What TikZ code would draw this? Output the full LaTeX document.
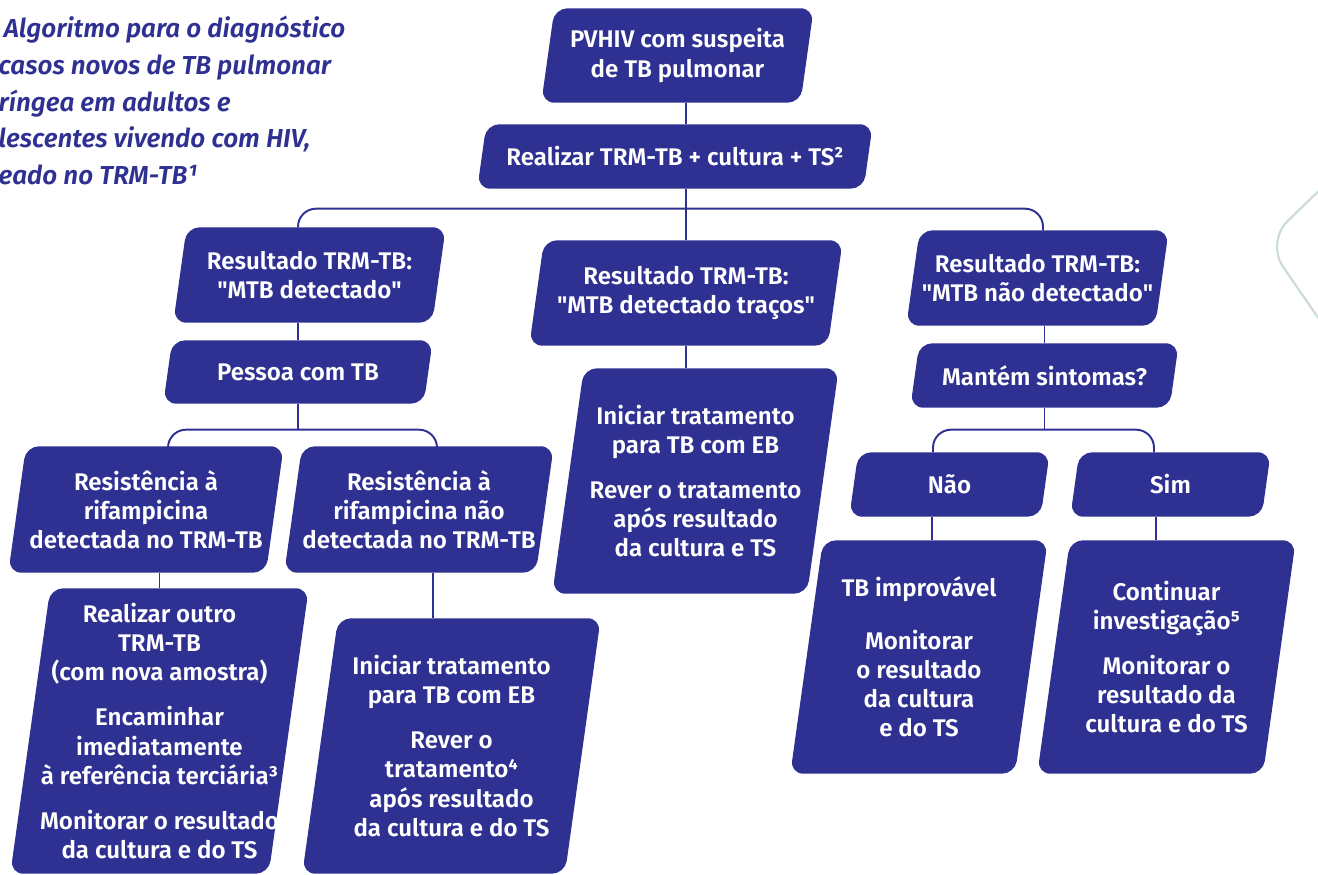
\documentclass[tikz,border=0pt]{standalone}
\usepackage{fontspec}
\setmainfont{Fira Sans}[UprightFont=* SemiBold, ItalicFont=* SemiBold Italic]
\usetikzlibrary{calc,backgrounds}

\definecolor{fluxo}{HTML}{2E3192}
\definecolor{enfeite}{HTML}{CADBDA}

\tikzset{
  caixa/.style={rectangle, inner sep=0pt, text=white, align=center,
    font=\fontsize{6.85}{8.3}\selectfont},
  liga/.style={draw=fluxo, line width=0.55pt},
  titulo/.style={text=fluxo, inner sep=0pt, align=left,
    font=\fontsize{7.4}{10.5}\selectfont\itshape},
}
% fundo inclinado de uma caixa
\newcommand\fundo[1]{%
  \fill[fluxo, rounded corners=1.3mm]
    let \p1=(#1.south west), \p2=(#1.north east), \n1={0.14*(\y2-\y1)} in
    (\x1,\y1) -- (\x1+\n1,\y2) -- (\x2,\y2) -- (\x2-\n1,\y1) -- cycle;}

\begin{document}
\begin{tikzpicture}[x=0.1mm, y=-0.1mm]
\useasboundingbox (0,0) rectangle (1318,875);

% titulo cortado na margem
\node[titulo, anchor=north west] (titulo) at (-2,15) {\hspace{1.5pt}Algoritmo para o diagnóstico\\casos novos de TB pulmonar\\ríngea em adultos e\\lescentes vivendo com HIV,\\eado no TRM-TB¹};

% enfeite
\draw[enfeite, line width=0.6pt, rounded corners=3mm] (1330,180) -- (1266,242) -- (1330,335);

% caixas
\node[caixa, minimum width=27.1mm, minimum height=9.3mm] (pvhiv) at (677.5,55.5) {PVHIV com suspeita\\de TB pulmonar};
\node[caixa, minimum width=39.4mm, minimum height=6.3mm] (acao) at (675,156.5) {Realizar TRM-TB + cultura + TS²};
\node[caixa, minimum width=27.1mm, minimum height=9.4mm] (detec) at (309.5,275) {Resultado TRM-TB:\\\textquotedbl MTB detectado\textquotedbl};
\node[caixa, minimum width=31.2mm, minimum height=10.4mm] (tracos) at (686,293) {Resultado TRM-TB:\\\textquotedbl MTB detectado traços\textquotedbl};
\node[caixa, minimum width=26.1mm, minimum height=9.4mm] (naodet) at (1037.5,278) {Resultado TRM-TB:\\\textquotedbl MTB não detectado\textquotedbl};
\node[caixa, minimum width=26.8mm, minimum height=6.2mm] (pessoa) at (298,372) {Pessoa com TB};
\node[caixa, minimum width=26.7mm, minimum height=6.3mm] (sintomas) at (1044.5,375.5) {Mantém sintomas?};
\node[caixa, minimum width=27.4mm, minimum height=12.5mm] (resist) at (146,509.5) {Resistência à\\rifampicina\\detectada no TRM-TB};
\node[caixa, minimum width=26.8mm, minimum height=12.5mm] (naoresist) at (419,509.5) {Resistência à\\rifampicina não\\detectada no TRM-TB};
\node[caixa, minimum width=28.5mm, minimum height=22.4mm] (iniciaeb) at (695.5,481) {Iniciar tratamento\\para TB com EB\\[4.5pt]Rever o tratamento\\após resultado\\da cultura e TS};
\node[caixa, minimum width=19.9mm, minimum height=6.3mm] (nao) at (949.5,484.5) {Não};
\node[caixa, minimum width=19.9mm, minimum height=6.3mm] (sim) at (1170.5,484.5) {Sim};
\node[caixa, minimum width=29.7mm, minimum height=28.4mm] (outro) at (159.5,731) {Realizar outro\\TRM-TB\\(com nova amostra)\\[4.5pt]Encaminhar\\imediatamente\\à referência terciária³\\[4.5pt]Monitorar o resultado\\da cultura e do TS};
\node[caixa, minimum width=29.7mm, minimum height=25.4mm] (inicia) at (451.5,746) {Iniciar tratamento\\para TB com EB\\[4.5pt]Rever o\\tratamento⁴\\após resultado\\da cultura e do TS};
\node[caixa, minimum width=25.6mm, minimum height=23.2mm] (improv) at (919,657) {TB improvável\\[6.5pt]Monitorar\\o resultado\\da cultura\\e do TS};
\node[caixa, minimum width=25.7mm, minimum height=23.2mm] (continua) at (1166.5,657) {Continuar\\investigação⁵\\[4.5pt]Monitorar o\\resultado da\\cultura e do TS};

\begin{scope}[on background layer]
\fill[white] (0,0) rectangle (1318,875);
\foreach \c in {pvhiv,acao,detec,tracos,naodet,pessoa,sintomas,resist,naoresist,
  iniciaeb,nao,sim,outro,inicia,improv,continua}
  \fundo{\c};
\end{scope}

% ligacoes
\draw[liga] (tracos.north |- pvhiv.south) -- (tracos.north |- acao.north);
\draw[liga] (tracos.north |- acao.south) -- (tracos.north);
\draw[liga, rounded corners=1.8mm] ([xshift=-1.15mm]detec.north) |- ([yshift=-2mm]acao.south) -| ([xshift=0.55mm]naodet.north);
\draw[liga] (pessoa.north |- detec.south) -- (pessoa.north);
\draw[liga] (pessoa.south) -- ([yshift=-2.6mm]pessoa.south);
\draw[liga, rounded corners=1.8mm] ([xshift=2.2mm]resist.north) |- ([yshift=-2.6mm]pessoa.south) -| ([xshift=1.8mm]naoresist.north);
\draw[liga] (outro.north |- resist.south) -- (outro.north);
\draw[liga] ([xshift=1.4mm]naoresist.south) -- ([xshift=1.4mm]naoresist.south |- inicia.north);
\draw[liga] (tracos.south) -- (tracos.south |- iniciaeb.north);
\draw[liga] (sintomas.north |- naodet.south) -- (sintomas.north);
\draw[liga] (sintomas.south) -- ([yshift=-2.2mm]sintomas.south);
\draw[liga, rounded corners=1.8mm] ([xshift=-1.65mm]nao.north) |- ([yshift=-2.2mm]sintomas.south) -| ([xshift=-1.65mm]sim.north);
\draw[liga] ([xshift=-1.75mm]nao.south) -- ([xshift=-1.75mm]nao.south |- improv.north);
\draw[liga] ([xshift=-1.45mm]sim.south) -- ([xshift=-1.45mm]sim.south |- continua.north);
\end{tikzpicture}
\end{document}
